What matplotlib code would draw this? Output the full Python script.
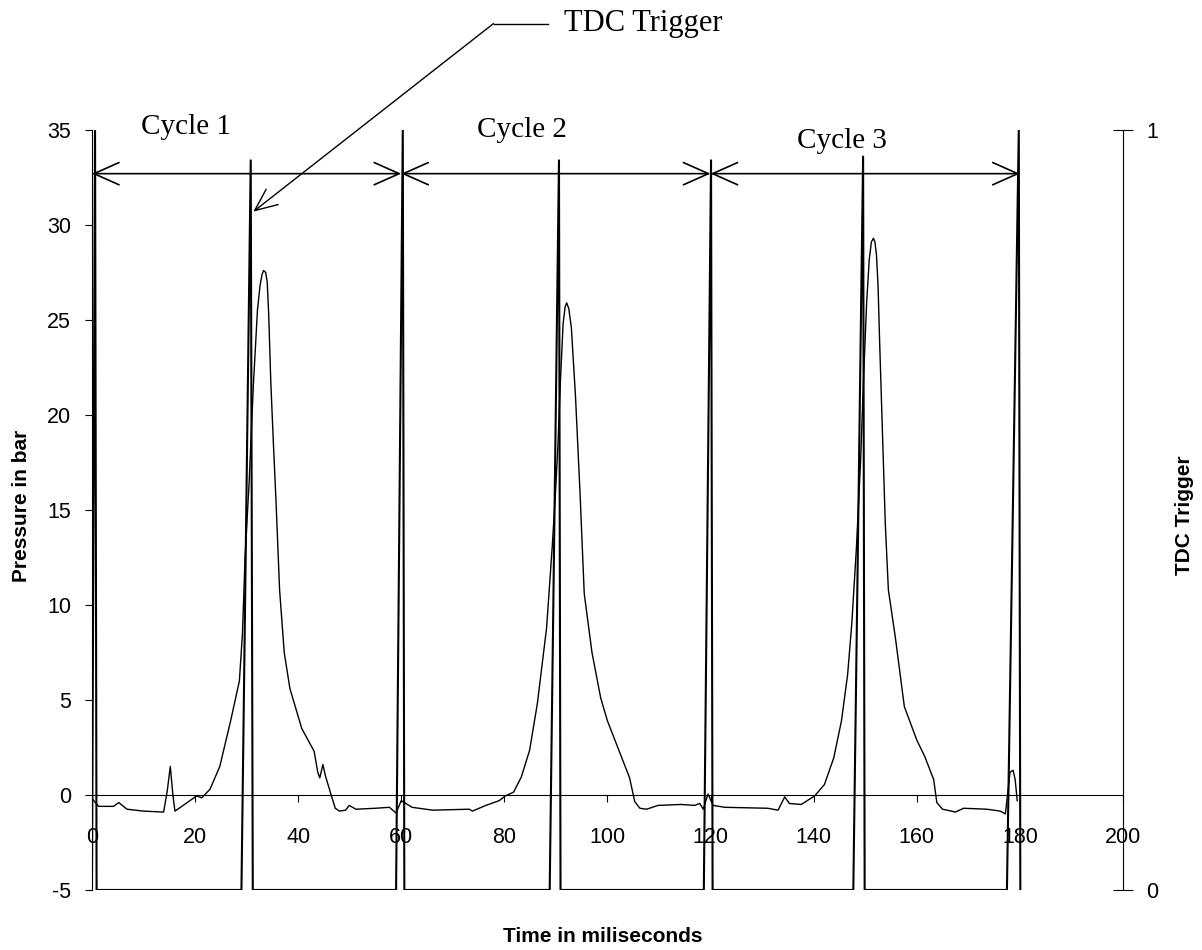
import matplotlib
matplotlib.use("Agg")
from matplotlib import pyplot as plt

plt.rcParams['font.family'] = 'Liberation Sans'
plt.rcParams['axes.unicode_minus'] = False

# pressure trace (time in ms, pressure in bar)
p_time = [0.2, 1.3, 4.2, 5.2, 6.8, 10.0, 13.9, 14.6, 15.2, 15.7, 16.1, 17.7,
          20.3, 21.3, 22.9, 24.8, 26.9, 28.6, 29.2, 29.7, 30.5, 31.3, 32.1,
          32.6, 33.0, 33.3, 33.7, 34.0, 34.3, 34.7, 35.2, 35.7, 36.4, 37.3,
          38.4, 40.7, 43.1, 43.8, 44.2, 44.8, 45.3, 46.4, 47.2, 48.0, 49.2,
          49.9, 51.2, 55.0, 57.7, 59.0, 60.0,
          62.1, 66.1, 73.2, 73.8, 76.4, 79.0, 80.2, 81.8, 83.3, 84.9, 86.4,
          88.2, 89.3, 89.9, 90.4, 90.9, 91.4, 91.8, 92.1, 92.5, 93.0, 93.8,
          94.7, 95.5, 97.0, 98.7, 100.0, 102.0, 104.3, 105.3, 106.3, 107.6,
          109.8, 114.3, 116.9, 117.9, 118.6, 119.5, 120.5, 122.8, 131.1,
          133.1, 134.4, 135.3, 137.6,
          140.2, 142.1, 143.9, 145.4, 146.6, 147.4, 148.3, 149.1, 149.7,
          150.3, 150.8, 151.2, 151.6, 151.9, 152.2, 152.5, 152.8, 153.4,
          153.9, 154.5, 155.9, 157.6, 160.0, 161.6, 163.3, 163.9, 165.0,
          165.9, 167.5, 169.1, 173.6, 176.2, 177.2, 178.1, 178.7, 179.1,
          179.5]
p_bar = [-0.25, -0.6, -0.6, -0.4, -0.75, -0.85, -0.9, 0.2, 1.5, 0.0, -0.85, -0.55,
         -0.05, -0.15, 0.3, 1.5, 3.9, 6.0, 8.5, 12.5, 16.5, 21.5, 25.5,
         26.8, 27.4, 27.6, 27.5, 27.0, 25.2, 21.7, 18.5, 15.5, 10.8, 7.5,
         5.6, 3.5, 2.3, 1.2, 0.9, 1.6, 1.0, 0.0, -0.7, -0.85, -0.8,
         -0.55, -0.75, -0.7, -0.65, -0.95, -0.3,
         -0.65, -0.8, -0.75, -0.85, -0.55, -0.3, -0.05, 0.15, 0.95, 2.35, 4.8,
         8.8, 13.1, 15.8, 18.4, 21.9, 24.8, 25.7, 25.9, 25.6, 24.6, 21.0,
         15.8, 10.6, 7.5, 5.1, 3.9, 2.5, 0.9, -0.35, -0.7, -0.75,
         -0.55, -0.5, -0.55, -0.45, -0.75, 0.05, -0.55, -0.65, -0.7,
         -0.8, -0.1, -0.45, -0.5,
         -0.05, 0.55, 1.95, 3.9, 6.35, 9.0, 13.0, 17.5, 22.0,
         26.0, 28.2, 29.1, 29.3, 29.1, 28.4, 26.8, 23.9, 18.7,
         14.3, 10.8, 8.2, 4.65, 2.9, 2.0, 0.8, -0.4, -0.75,
         -0.8, -0.9, -0.7, -0.75, -0.85, -1.0, 1.2, 1.3, 0.8,
         -0.3]

# TDC trigger pulses (right axis, 0..1)
trig_time = [0.0, 0.6, 0.9, 29.0, 30.8, 31.2, 59.0, 60.3, 60.6, 88.8, 90.6, 90.9,
             118.7, 120.1, 120.4, 147.7, 149.6, 149.9, 177.5, 179.8, 180.1]
trig_level = [0, 1.0, 0, 0, 0.96, 0, 0, 1.0, 0, 0, 0.96, 0,
              0, 0.96, 0, 0, 0.965, 0, 0, 1.0, 0]

cycle_bounds = [0, 60, 120, 180]
cycle_names = ['Cycle 1', 'Cycle 2', 'Cycle 3']
cycle_label_x = [18.2, 83.5, 145.4]
cycle_label_y = [35.15, 35.0, 34.4]

fig = plt.figure(figsize=(12.02, 9.5), dpi=100)
ax = fig.add_axes([0.0765, 0.0632, 0.8577, 0.8])
ax.plot(p_time, p_bar, color='black', lw=1.0)
ax.set_xlim(0, 200)
ax.set_ylim(-5, 35)
ax.set_xticks(range(0, 201, 20))
ax.set_yticks(range(-5, 36, 5))
ax.spines['top'].set_visible(False)
ax.spines['right'].set_visible(False)
ax.spines['bottom'].set_position(('data', 0))
ax.tick_params(axis='y', direction='out', length=5, pad=10, labelsize=15.5)
ax.tick_params(axis='x', direction='out', length=5, pad=18, labelsize=15.5)

ax2 = ax.twinx()
ax2.plot(trig_time, trig_level, color='black', lw=1.5)
ax2.set_ylim(0, 1)
ax2.set_yticks([0, 1])
for s in ['top', 'left', 'bottom']:
    ax2.spines[s].set_visible(False)
ax2.tick_params(axis='y', direction='inout', length=14, pad=10, labelsize=15.5)

# cycle spans
arrow_y = 32.7
for i in range(3):
    ax.annotate('', xy=(cycle_bounds[i + 1], arrow_y), xytext=(cycle_bounds[i], arrow_y),
                arrowprops=dict(arrowstyle='<->,head_length=0.9,head_width=0.4',
                                mutation_scale=20, lw=1.2, color='black',
                                shrinkA=0, shrinkB=0),
                annotation_clip=False)
    ax.text(cycle_label_x[i], cycle_label_y[i], cycle_names[i], ha='center', va='center',
            fontsize=21, family='Liberation Serif')

# TDC trigger call-out
ax.plot([77.9, 88.5], [40.6, 40.6], color='black', lw=1.0, clip_on=False)
ax.annotate('', xy=(31.3, 30.7), xytext=(77.9, 40.6),
            arrowprops=dict(arrowstyle='->,head_length=0.8,head_width=0.35',
                            mutation_scale=20, lw=1.0, color='black',
                            shrinkA=0, shrinkB=0),
            annotation_clip=False)
ax.text(91.6, 40.6, 'TDC Trigger', ha='left', va='center', fontsize=22,
        family='Liberation Serif')

fig.text(22 / 1202, 1 - 506 / 950, 'Pressure in bar', rotation=90, ha='center',
         va='center', fontsize=15, fontweight='bold')
fig.text(603 / 1202, 1 - 937 / 950, 'Time in miliseconds', ha='center', va='center',
         fontsize=15, fontweight='bold')
fig.text(1185 / 1202, 1 - 515 / 950, 'TDC Trigger', rotation=90, ha='center',
         va='center', fontsize=15, fontweight='bold')

fig.savefig('out.png', dpi=100)
